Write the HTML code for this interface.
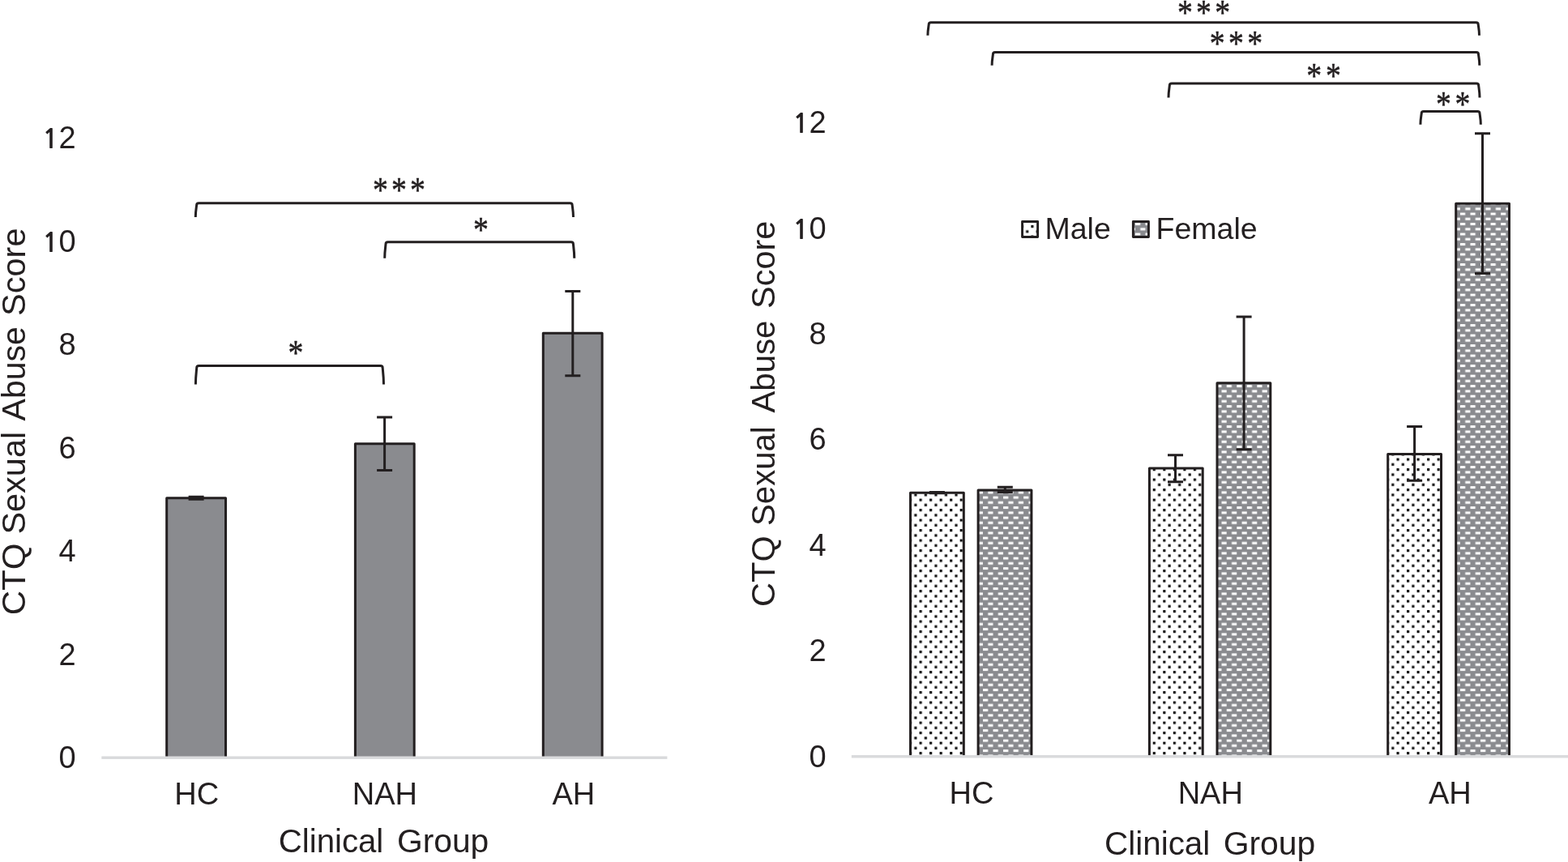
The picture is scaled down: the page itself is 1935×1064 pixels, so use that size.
<!DOCTYPE html>
<html><head><meta charset="utf-8"><title>CTQ Sexual Abuse Score by Clinical Group</title>
<style>
html,body{margin:0;padding:0;background:#fff;}
body{width:1935px;height:1064px;overflow:hidden;}
svg{display:block;}
text{font-family:"Liberation Sans", Arial, Helvetica, sans-serif;fill:#231f20;}
.ast{font-family:"Liberation Serif", serif;font-size:40px;stroke:#231f20;stroke-width:0.45px;stroke-linejoin:round;}
</style></head>
<body>
<svg width="1935" height="1064" viewBox="0 0 1935 1064">
<defs>
<pattern id="dots" patternUnits="userSpaceOnUse" x="6.735" y="2.907" width="12.531" height="12.503">
  <rect width="12.531" height="12.503" fill="#fff"/>
  <rect x="0" y="0" width="3.15" height="3.15" fill="#0c0c0c"/>
  <rect x="6.2655" y="6.2515" width="3.15" height="3.15" fill="#0c0c0c"/>
</pattern>
<pattern id="dash" patternUnits="userSpaceOnUse" x="10.024" y="12.482" width="12.531" height="12.503">
  <rect width="12.531" height="12.503" fill="#8a8b8f"/>
  <rect x="0" y="0" width="6.2" height="3.0" fill="#fff"/>
  <rect x="6.2655" y="-6.2515" width="6.2" height="3.0" fill="#fff"/>
  <rect x="6.2655" y="6.2515" width="6.2" height="3.0" fill="#fff"/>
  <rect x="-6.2655" y="6.2515" width="6.2" height="3.0" fill="#fff"/>
</pattern>
</defs>
<rect width="1935" height="1064" fill="#fff"/>
<text x="93.60" y="948.20" font-size="38" text-anchor="end" >0</text>
<text x="93.60" y="820.74" font-size="38" text-anchor="end" >2</text>
<text x="93.60" y="693.28" font-size="38" text-anchor="end" >4</text>
<text x="93.60" y="565.82" font-size="38" text-anchor="end" >6</text>
<text x="93.60" y="438.36" font-size="38" text-anchor="end" >8</text>
<text y="310.90" font-size="38"><tspan x="52.09" font-family="NanumGothic" font-weight="bold" font-size="33.8">1</tspan><tspan x="72.46">0</tspan></text>
<text y="183.44" font-size="38"><tspan x="52.09" font-family="NanumGothic" font-weight="bold" font-size="33.8">1</tspan><tspan x="72.46">2</tspan></text>
<text transform="translate(30.80 759.32) rotate(-90)" x="0" y="0" font-size="41.5" textLength="88.64" lengthAdjust="spacingAndGlyphs">CTQ</text>
<text transform="translate(30.80 659.60) rotate(-90)" x="0" y="0" font-size="41.5" textLength="126.79" lengthAdjust="spacingAndGlyphs">Sexual</text>
<text transform="translate(30.80 519.50) rotate(-90)" x="0" y="0" font-size="41.5" textLength="116.46" lengthAdjust="spacingAndGlyphs">Abuse</text>
<text transform="translate(30.80 389.90) rotate(-90)" x="0" y="0" font-size="41.5" textLength="108.41" lengthAdjust="spacingAndGlyphs">Score</text>
<rect x="205.70" y="614.80" width="72.80" height="320.20" fill="#8a8b8f"/>
<path d="M205.70 935.00V614.80H278.50V935.00" fill="none" stroke="#231f20" stroke-width="3.0" stroke-linejoin="round"/>
<rect x="438.40" y="547.80" width="72.80" height="387.20" fill="#8a8b8f"/>
<path d="M438.40 935.00V547.80H511.20V935.00" fill="none" stroke="#231f20" stroke-width="3.0" stroke-linejoin="round"/>
<rect x="670.30" y="411.30" width="72.80" height="523.70" fill="#8a8b8f"/>
<path d="M670.30 935.00V411.30H743.10V935.00" fill="none" stroke="#231f20" stroke-width="3.0" stroke-linejoin="round"/>
<path d="M242.10 613.30V616.30M232.60 613.30H251.60M232.60 616.30H251.60" fill="none" stroke="#231f20" stroke-width="3.0"/>
<path d="M474.60 515.00V580.60M465.10 515.00H484.10M465.10 580.60H484.10" fill="none" stroke="#231f20" stroke-width="3.0"/>
<path d="M706.80 359.40V463.70M697.30 359.40H716.30M697.30 463.70H716.30" fill="none" stroke="#231f20" stroke-width="3.0"/>
<rect x="125.3" y="933.5" width="698.1" height="3.4" fill="#d9dadc"/>
<text x="242.75" y="992.60" font-size="38" text-anchor="middle" >HC</text>
<text x="474.90" y="992.60" font-size="38" text-anchor="middle" >NAH</text>
<text x="707.90" y="992.60" font-size="38" text-anchor="middle" >AH</text>
<text x="343.76" y="1052.20" font-size="41.5" textLength="129.53" lengthAdjust="spacingAndGlyphs">Clinical</text>
<text x="489.93" y="1052.20" font-size="41.5" textLength="113.37" lengthAdjust="spacingAndGlyphs">Group</text>
<path d="M241.30 268.10C241.30 260.31 242.60 254.80 242.60 253.20Q242.60 250.80 245.30 250.80H703.50Q706.20 250.80 706.20 253.20C706.20 254.80 707.50 260.31 707.50 268.10" fill="none" stroke="#231f20" stroke-width="3.0"/>
<path d="M474.70 318.80C474.70 309.80 476.00 302.80 476.00 301.20Q476.00 298.80 478.70 298.80H704.75Q707.45 298.80 707.45 301.20C707.45 302.80 708.75 309.80 708.75 318.80" fill="none" stroke="#231f20" stroke-width="3.0"/>
<path d="M241.40 474.60C241.40 464.21 242.70 455.50 242.70 453.90Q242.70 451.50 245.40 451.50H469.50Q472.20 451.50 472.20 453.90C472.20 455.50 473.50 464.21 473.50 474.60" fill="none" stroke="#231f20" stroke-width="3.0"/>
<text x="1019.70" y="946.80" font-size="38" text-anchor="end" >0</text>
<text x="1019.70" y="816.34" font-size="38" text-anchor="end" >2</text>
<text x="1019.70" y="685.88" font-size="38" text-anchor="end" >4</text>
<text x="1019.70" y="555.42" font-size="38" text-anchor="end" >6</text>
<text x="1019.70" y="424.96" font-size="38" text-anchor="end" >8</text>
<text y="294.50" font-size="38"><tspan x="977.99" font-family="NanumGothic" font-weight="bold" font-size="33.8">1</tspan><tspan x="998.56">0</tspan></text>
<text y="164.04" font-size="38"><tspan x="977.99" font-family="NanumGothic" font-weight="bold" font-size="33.8">1</tspan><tspan x="998.56">2</tspan></text>
<text transform="translate(956.40 748.90) rotate(-90)" x="0" y="0" font-size="41.5" textLength="87.59" lengthAdjust="spacingAndGlyphs">CTQ</text>
<text transform="translate(956.40 648.93) rotate(-90)" x="0" y="0" font-size="41.5" textLength="122.66" lengthAdjust="spacingAndGlyphs">Sexual</text>
<text transform="translate(956.40 509.50) rotate(-90)" x="0" y="0" font-size="41.5" textLength="113.95" lengthAdjust="spacingAndGlyphs">Abuse</text>
<text transform="translate(956.40 381.00) rotate(-90)" x="0" y="0" font-size="41.5" textLength="108.30" lengthAdjust="spacingAndGlyphs">Score</text>
<rect x="1123.50" y="608.20" width="65.80" height="325.40" fill="url(#dots)"/>
<path d="M1123.50 933.60V608.20H1189.30V933.60" fill="none" stroke="#231f20" stroke-width="3.0" stroke-linejoin="round"/>
<rect x="1207.10" y="604.90" width="65.80" height="328.70" fill="url(#dash)"/>
<path d="M1207.10 933.60V604.90H1272.90V933.60" fill="none" stroke="#231f20" stroke-width="3.0" stroke-linejoin="round"/>
<rect x="1418.40" y="578.00" width="65.80" height="355.60" fill="url(#dots)"/>
<path d="M1418.40 933.60V578.00H1484.20V933.60" fill="none" stroke="#231f20" stroke-width="3.0" stroke-linejoin="round"/>
<rect x="1502.00" y="472.80" width="65.80" height="460.80" fill="url(#dash)"/>
<path d="M1502.00 933.60V472.80H1567.80V933.60" fill="none" stroke="#231f20" stroke-width="3.0" stroke-linejoin="round"/>
<rect x="1712.70" y="560.50" width="65.80" height="373.10" fill="url(#dots)"/>
<path d="M1712.70 933.60V560.50H1778.50V933.60" fill="none" stroke="#231f20" stroke-width="3.0" stroke-linejoin="round"/>
<rect x="1796.70" y="251.20" width="65.80" height="682.40" fill="url(#dash)"/>
<path d="M1796.70 933.60V251.20H1862.50V933.60" fill="none" stroke="#231f20" stroke-width="3.0" stroke-linejoin="round"/>
<path d="M1156.40 607.60V608.80M1146.90 607.60H1165.90M1146.90 608.80H1165.90" fill="none" stroke="#231f20" stroke-width="3.0"/>
<path d="M1240.30 601.30V607.50M1230.80 601.30H1249.80M1230.80 607.50H1249.80" fill="none" stroke="#231f20" stroke-width="3.0"/>
<path d="M1450.50 561.80V594.80M1441.00 561.80H1460.00M1441.00 594.80H1460.00" fill="none" stroke="#231f20" stroke-width="3.0"/>
<path d="M1535.10 391.00V554.80M1525.60 391.00H1544.60M1525.60 554.80H1544.60" fill="none" stroke="#231f20" stroke-width="3.0"/>
<path d="M1745.60 526.50V593.20M1736.10 526.50H1755.10M1736.10 593.20H1755.10" fill="none" stroke="#231f20" stroke-width="3.0"/>
<path d="M1829.50 164.80V337.50M1820.00 164.80H1839.00M1820.00 337.50H1839.00" fill="none" stroke="#231f20" stroke-width="3.0"/>
<rect x="1050.8" y="932.1" width="884.2" height="3.4" fill="#d9dadc"/>
<text x="1199.00" y="991.80" font-size="38" text-anchor="middle" >HC</text>
<text x="1493.80" y="991.80" font-size="38" text-anchor="middle" >NAH</text>
<text x="1789.40" y="991.80" font-size="38" text-anchor="middle" >AH</text>
<text x="1363.05" y="1055.00" font-size="41.5" textLength="130.25" lengthAdjust="spacingAndGlyphs">Clinical</text>
<text x="1509.63" y="1055.00" font-size="41.5" textLength="113.68" lengthAdjust="spacingAndGlyphs">Group</text>
<rect x="1261.55" y="273.5" width="19.05" height="19.0" fill="url(#dots)" stroke="#231f20" stroke-width="2.9" stroke-linejoin="round"/>
<rect x="1398.35" y="273.5" width="19.1" height="19.0" fill="url(#dash)" stroke="#231f20" stroke-width="2.9" stroke-linejoin="round"/>
<text x="1289.50" y="295.20" font-size="37.5" text-anchor="start" >Male</text>
<text x="1426.60" y="295.20" font-size="37.5" text-anchor="start" >Female</text>
<path d="M1144.90 43.80C1144.90 36.55 1146.20 31.70 1146.20 30.10Q1146.20 27.70 1148.90 27.70H1821.50Q1824.20 27.70 1824.20 30.10C1824.20 31.70 1825.50 36.55 1825.50 43.80" fill="none" stroke="#231f20" stroke-width="3.0"/>
<path d="M1224.10 80.70C1224.10 73.45 1225.40 68.60 1225.40 67.00Q1225.40 64.60 1228.10 64.60H1821.80Q1824.50 64.60 1824.50 67.00C1824.50 68.60 1825.80 73.45 1825.80 80.70" fill="none" stroke="#231f20" stroke-width="3.0"/>
<path d="M1442.00 120.60C1442.00 112.72 1443.30 107.10 1443.30 105.50Q1443.30 103.10 1446.00 103.10H1822.00Q1824.70 103.10 1824.70 105.50C1824.70 107.10 1826.00 112.72 1826.00 120.60" fill="none" stroke="#231f20" stroke-width="3.0"/>
<path d="M1752.90 153.70C1752.90 146.45 1754.20 141.60 1754.20 140.00Q1754.20 137.60 1756.90 137.60H1823.35Q1826.05 137.60 1826.05 140.00C1826.05 141.60 1827.35 146.45 1827.35 153.70" fill="none" stroke="#231f20" stroke-width="3.0"/>
<text transform="translate(460.01 249.10) scale(0.9437 1.1000)" x="0" y="0" class="ast" letter-spacing="4.371">***</text>
<text transform="translate(583.91 298.35) scale(0.9437 1.1133)" x="0" y="0" class="ast" letter-spacing="0.000">*</text>
<text transform="translate(355.51 450.03) scale(0.9437 1.0933)" x="0" y="0" class="ast" letter-spacing="0.000">*</text>
<text transform="translate(1452.91 29.77) scale(0.9437 1.1067)" x="0" y="0" class="ast" letter-spacing="4.583">***</text>
<text transform="translate(1492.71 68.25) scale(0.9437 1.1133)" x="0" y="0" class="ast" letter-spacing="4.689">***</text>
<text transform="translate(1612.31 107.53) scale(0.9437 1.0933)" x="0" y="0" class="ast" letter-spacing="5.113">**</text>
<text transform="translate(1771.91 143.42) scale(0.9437 1.1200)" x="0" y="0" class="ast" letter-spacing="5.007">**</text>
</svg>
</body></html>
